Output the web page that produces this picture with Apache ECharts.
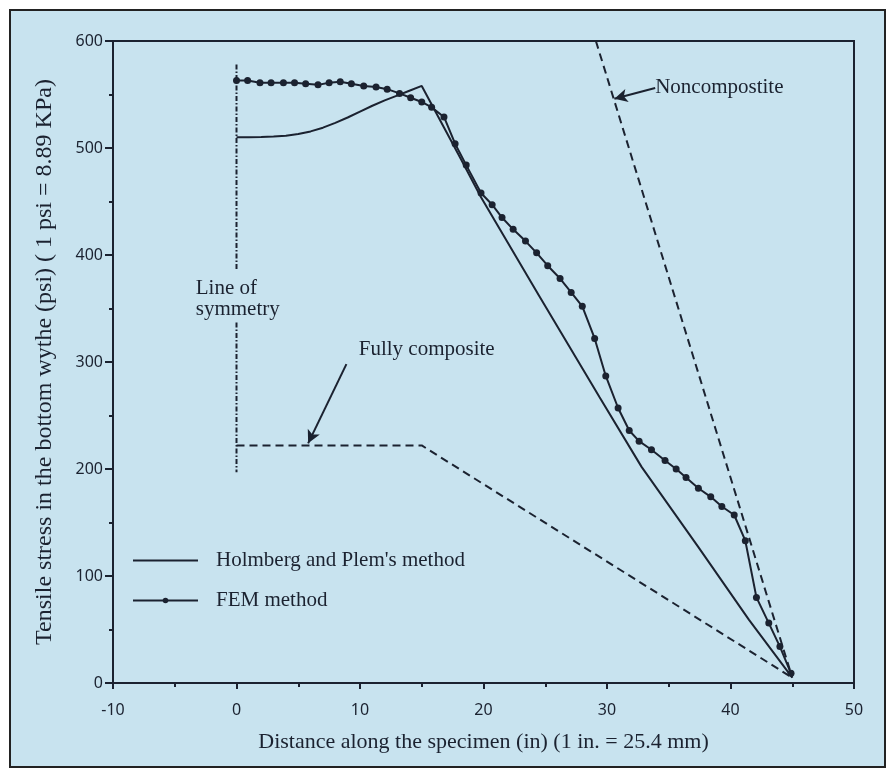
<!DOCTYPE html>
<html>
<head>
<meta charset="utf-8">
<script src="https://cdn.jsdelivr.net/npm/echarts@6/dist/echarts.min.js"></script>
<style>
html, body { margin: 0; padding: 0; background: #fff; }
#grafico { width: 892px; height: 778px; }
</style>
</head>
<body>
<div id="grafico"></div>
<script>
// FEM results
var femX = [0, 0.9, 1.9, 2.8, 3.8, 4.7, 5.6, 6.6, 7.5, 8.4, 9.3, 10.3, 11.3, 12.2, 13.2, 14.1, 15.0, 15.8, 16.8, 17.7,
    18.6, 19.8, 20.7, 21.5, 22.4, 23.4, 24.3, 25.2, 26.2, 27.1, 28.0, 29.0, 29.9, 30.9, 31.8, 32.6, 33.6, 34.7, 35.6,
    36.4, 37.4, 38.4, 39.3, 40.3, 41.2, 42.1, 43.1, 44.0, 44.9];
var femY = [563, 563, 561, 561, 561, 561, 560, 559, 561, 562, 560, 558, 557, 555, 551, 547, 543, 538, 529, 504,
    484, 458, 447, 435, 424, 413, 402, 390, 378, 365, 352, 322, 287, 257, 236, 226, 218, 208, 200,
    192, 182, 174, 165, 157, 133, 80, 56, 34, 9];
// Holmberg and Plem's method
var holmX = [0, 1, 2, 3, 4, 5, 6, 7, 8, 9, 10, 11, 12, 13, 14, 15, 18.2, 19.8, 24.5, 29.4, 32.8, 37.4, 41.5, 45];
var holmY = [510, 510, 510.3, 510.8, 511.5, 513, 515.5, 519, 523.5, 528.5, 534, 539.5, 544.5, 549, 553.5, 558,
    489, 454, 362, 267, 202, 127, 59, 5];
// limites teoricos
var noncompX = [29.1, 45];
var noncompY = [600, 5];
var fullX = [0, 15, 45];
var fullY = [222, 222, 5];
// linea de simetria (cortada donde va el texto)
var simX = [0, 0, null, 0, 0];
var simY = [578, 386, null, 337, 197];

var xLimites = [-10, 50];
var yLimites = [0, 600];

var OSCURO = '#1b2230';
var FONDO = '#c8e3ef';
var SERIF = '"Liberation Serif", "Times New Roman", serif';
var SANS = '"Noto Sans", sans-serif';

function pares(xs, ys) {
    return xs.map(function (v, i) { return v === null ? [null, null] : [v, ys[i]]; });
}

var chart = echarts.init(document.getElementById('grafico'));
var option = {
    animation: false,
    backgroundColor: '#fff',
    graphic: [{
        type: 'rect',
        z: -100,
        shape: { x: 10, y: 10, width: 875, height: 757 },
        style: { fill: FONDO, stroke: '#222', lineWidth: 2 }
    }],
    grid: {
        left: 113, top: 41, width: 741, height: 642,
        show: true, borderColor: OSCURO, borderWidth: 2, backgroundColor: 'transparent'
    },
    legend: {
        data: [
            { name: "Holmberg and Plem's method", itemStyle: { opacity: 0 } },
            { name: 'FEM method' }
        ],
        orient: 'vertical',
        left: 132, top: 550, padding: 0,
        itemWidth: 65, itemHeight: 7, itemGap: 19,
        textStyle: { fontFamily: SERIF, fontSize: 21, color: OSCURO, padding: [0, 0, 0, 13] }
    },
    xAxis: {
        type: 'value', min: xLimites[0], max: xLimites[1], interval: 10,
        name: 'Distance along the specimen (in) (1 in. = 25.4 mm)',
        nameLocation: 'middle', nameGap: 48,
        nameTextStyle: { fontFamily: SERIF, fontSize: 22, color: OSCURO },
        axisLine: { onZero: false, lineStyle: { color: OSCURO, width: 2 } },
        axisTick: { length: 6, lineStyle: { color: OSCURO, width: 2 } },
        minorTick: { show: true, splitNumber: 2, length: 4, lineStyle: { color: OSCURO, width: 2 } },
        splitLine: { show: false },
        axisLabel: { margin: 19, fontFamily: SANS, fontSize: 16, color: OSCURO }
    },
    yAxis: {
        type: 'value', min: yLimites[0], max: yLimites[1], interval: 100,
        name: 'Tensile stress in the bottom wythe (psi) ( 1 psi = 8.89 KPa)',
        nameLocation: 'middle', nameGap: 56,
        nameTextStyle: { fontFamily: SERIF, fontSize: 24, color: OSCURO },
        axisLine: { onZero: false, lineStyle: { color: OSCURO, width: 2 } },
        axisTick: { length: 8, lineStyle: { color: OSCURO, width: 2 } },
        minorTick: { show: true, splitNumber: 2, length: 4, lineStyle: { color: OSCURO, width: 2 } },
        splitLine: { show: false },
        axisLabel: { margin: 10, fontFamily: SANS, fontSize: 16, color: OSCURO }
    },
    series: [{
        name: "Holmberg and Plem's method",
        type: 'line',
        data: pares(holmX, holmY),
        symbol: 'none',
        lineStyle: { color: OSCURO, width: 2 },
        itemStyle: { color: OSCURO }
    }, {
        name: 'FEM method',
        type: 'line',
        data: pares(femX, femY),
        symbol: 'circle', symbolSize: 7,
        lineStyle: { color: OSCURO, width: 2 },
        itemStyle: { color: OSCURO }
    }, {
        name: 'Noncomposite',
        type: 'line',
        data: pares(noncompX, noncompY),
        symbol: 'none',
        lineStyle: { color: OSCURO, width: 2, type: [8, 5] },
        markLine: {
            silent: true, symbol: ['none', 'arrow'], symbolSize: [10, 13],
            label: { show: false },
            lineStyle: { color: OSCURO, width: 2, type: 'solid' },
            data: [[{ coord: [33.9, 556] }, { coord: [30.6, 546] }]]
        }
    }, {
        name: 'Fully composite',
        type: 'line',
        data: pares(fullX, fullY),
        symbol: 'none',
        lineStyle: { color: OSCURO, width: 2, type: [8, 5] },
        markLine: {
            silent: true, symbol: ['none', 'arrow'], symbolSize: [10, 13],
            label: { show: false },
            lineStyle: { color: OSCURO, width: 2, type: 'solid' },
            data: [[{ coord: [8.9, 298] }, { coord: [5.8, 224] }]]
        }
    }, {
        name: 'Line of symmetry',
        type: 'line',
        data: pares(simX, simY),
        symbol: 'none',
        connectNulls: false,
        lineStyle: { color: OSCURO, width: 2, type: [5, 2, 1.5, 2] }
    }]
};
chart.setOption(option);

// textos de anotacion, ubicados en coordenadas de datos
var notas = [
    { txt: 'Line of', x: -3.3, y: 369 },
    { txt: 'symmetry', x: -3.3, y: 349 },
    { txt: 'Fully composite', x: 9.9, y: 312 },
    { txt: 'Noncompostite', x: 33.9, y: 557 }
];
var textos = notas.map(function (n) {
    var p = chart.convertToPixel({ gridIndex: 0 }, [n.x, n.y]);
    return {
        type: 'text', x: p[0], y: p[1], z: 10,
        style: { text: n.txt, font: '21px ' + SERIF, fill: OSCURO, verticalAlign: 'middle' }
    };
});
chart.setOption({ graphic: option.graphic.concat(textos) });
</script>
</body>
</html>
